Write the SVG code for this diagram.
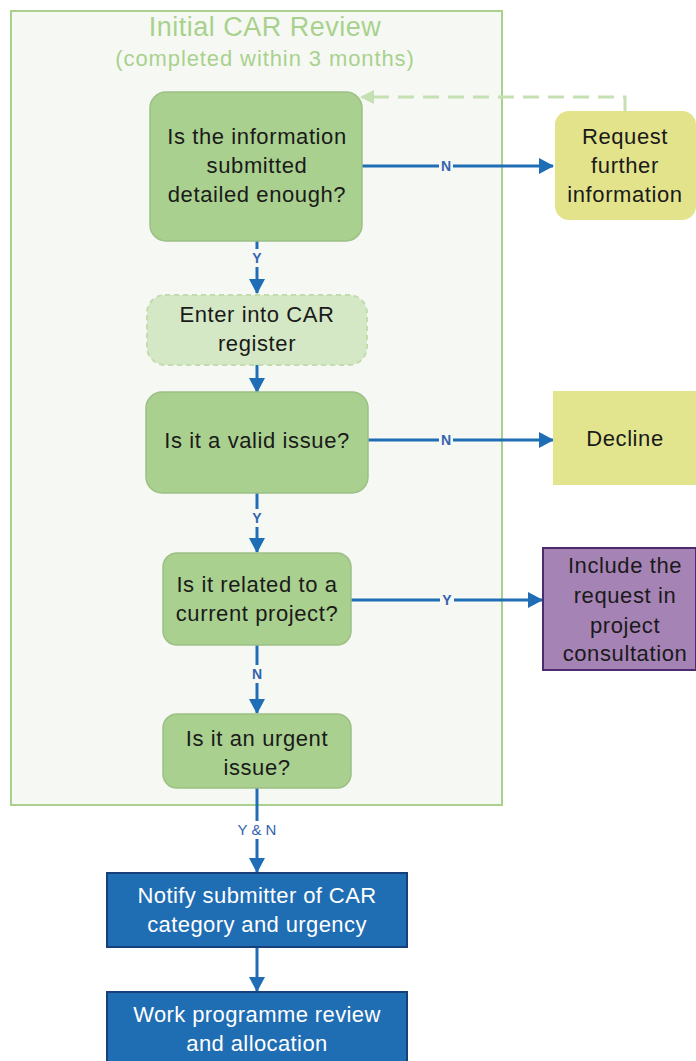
<svg xmlns="http://www.w3.org/2000/svg" width="696" height="1061" viewBox="0 0 696 1061">
<defs>
<marker id="ah" markerWidth="15" markerHeight="16" refX="14" refY="8" orient="auto" markerUnits="userSpaceOnUse" viewBox="0 0 15 16">
<path d="M0,0 L15,8 L0,16 Z" fill="#1f6db5"/>
</marker>
<marker id="ahg" markerWidth="14" markerHeight="14" refX="12" refY="7" orient="auto" markerUnits="userSpaceOnUse" viewBox="0 0 14 14">
<path d="M0,0 L14,7 L0,14 Z" fill="#c5e0b3"/>
</marker>
<style>
text{font-family:"Liberation Sans",Arial,sans-serif;text-anchor:middle}
.t{font-size:22px;fill:#1a1a1a;letter-spacing:0.6px}
.w{font-size:22px;fill:#ffffff;letter-spacing:0.4px}
.q{fill:#a9d08e;stroke:#9cbf85;stroke-width:1.5}
.c{stroke:#1f6db5;stroke-width:3;fill:none}
.lb{font-size:14px;font-weight:bold;fill:#3563b0}
.blue{fill:#1f6db3;stroke:#173f7a;stroke-width:2}
</style>
</defs>
<rect width="696" height="1061" fill="#ffffff"/>
<g id="container">
<rect x="11" y="11" width="491" height="794" fill="#f6f9f3" stroke="#a9d18e" stroke-width="2"/>
<text x="265" y="36" style="font-size:27px;fill:#a9d18e;letter-spacing:0.5px">Initial CAR Review</text>
<text x="265" y="66" style="font-size:22px;fill:#a9d18e;letter-spacing:0.9px">(completed within 3 months)</text>
</g>
<g id="connectors">
<path d="M625,111 V97 H362" fill="none" stroke="#c5e0b3" stroke-width="3" stroke-dasharray="16,9" marker-end="url(#ahg)"/>
<line class="c" x1="362" y1="166" x2="553" y2="166" marker-end="url(#ah)"/>
<line class="c" x1="257" y1="241" x2="257" y2="293" marker-end="url(#ah)"/>
<line class="c" x1="257" y1="365" x2="257" y2="392" marker-end="url(#ah)"/>
<line class="c" x1="368" y1="440" x2="553" y2="440" marker-end="url(#ah)"/>
<line class="c" x1="257" y1="493" x2="257" y2="552" marker-end="url(#ah)"/>
<line class="c" x1="351" y1="600" x2="542" y2="600" marker-end="url(#ah)"/>
<line class="c" x1="257" y1="645" x2="257" y2="713" marker-end="url(#ah)"/>
<line class="c" x1="257" y1="788" x2="257" y2="872" marker-end="url(#ah)"/>
<line class="c" x1="257" y1="947" x2="257" y2="991" marker-end="url(#ah)"/>
<rect x="439" y="157" width="14" height="17" fill="#f6f9f3"/>
<text class="lb" x="446" y="171">N</text>
<rect x="250" y="249" width="14" height="18" fill="#f6f9f3"/>
<text class="lb" x="257" y="263">Y</text>
<rect x="439" y="431" width="14" height="17" fill="#f6f9f3"/>
<text class="lb" x="446" y="445">N</text>
<rect x="250" y="509" width="14" height="18" fill="#f6f9f3"/>
<text class="lb" x="257" y="523">Y</text>
<rect x="440" y="591" width="14" height="17" fill="#f6f9f3"/>
<text class="lb" x="447" y="605">Y</text>
<rect x="250" y="665" width="14" height="18" fill="#f6f9f3"/>
<text class="lb" x="257" y="679">N</text>
<rect x="231" y="821" width="52" height="18" fill="#ffffff"/>
<text x="257" y="835" style="font-size:15px;fill:#3563b0">Y &amp; N</text>
</g>
<g id="q1">
<rect class="q" x="150" y="92" width="212" height="149" rx="16"/>
<text class="t" x="257" y="144">Is the information</text>
<text class="t" x="257" y="173">submitted</text>
<text class="t" x="257" y="202">detailed enough?</text>
</g>
<g id="request">
<rect x="555" y="111" width="141" height="109" rx="14" fill="#e2e38a"/>
<text class="t" x="625" y="144">Request</text>
<text class="t" x="625" y="173">further</text>
<text class="t" x="625" y="202">information</text>
</g>
<g id="register">
<rect x="147" y="295" width="220" height="70" rx="18" fill="#d5e8c5" stroke="#c2dcae" stroke-width="2" stroke-dasharray="5,4"/>
<text class="t" x="257" y="322">Enter into CAR</text>
<text class="t" x="257" y="351">register</text>
</g>
<g id="q2">
<rect class="q" x="146" y="392" width="222" height="101" rx="16"/>
<text class="t" x="257" y="448">Is it a valid issue?</text>
</g>
<g id="decline">
<rect x="553" y="391" width="143" height="94" fill="#e2e58d"/>
<text class="t" x="625" y="446">Decline</text>
</g>
<g id="q3">
<rect class="q" x="163" y="553" width="188" height="92" rx="14"/>
<text class="t" x="257" y="592">Is it related to a</text>
<text class="t" x="257" y="621">current project?</text>
</g>
<g id="include">
<rect x="543" y="548" width="153" height="122" fill="#a683b5" stroke="#4b2a6e" stroke-width="2"/>
<text class="t" x="625" y="573">Include the</text>
<text class="t" x="625" y="603">request in</text>
<text class="t" x="625" y="633">project</text>
<text class="t" x="625" y="661">consultation</text>
</g>
<g id="q4">
<rect class="q" x="163" y="714" width="188" height="74" rx="14"/>
<text class="t" x="257" y="746">Is it an urgent</text>
<text class="t" x="257" y="775">issue?</text>
</g>
<g id="notify">
<rect class="blue" x="107" y="873" width="300" height="74"/>
<text class="w" x="257" y="903">Notify submitter of CAR</text>
<text class="w" x="257" y="932">category and urgency</text>
</g>
<g id="work">
<rect class="blue" x="107" y="992" width="300" height="75"/>
<text class="w" x="257" y="1022">Work programme review</text>
<text class="w" x="257" y="1051">and allocation</text>
</g>
</svg>
